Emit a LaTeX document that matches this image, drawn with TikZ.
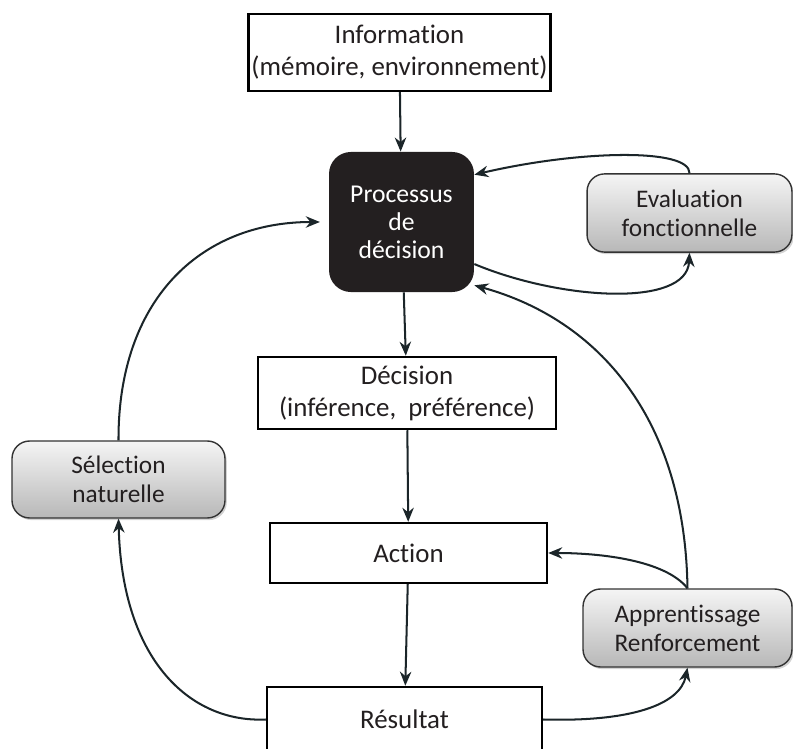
\documentclass[tikz,border=0pt]{standalone}
\usepackage{fontspec}
\setmainfont{Carlito}[Ligatures={NoCommon,NoRare,NoContextual}]
\usetikzlibrary{arrows.meta,shadows}
\definecolor{linecol}{HTML}{1B2529}
\definecolor{textcol}{HTML}{231F20}
\definecolor{procfill}{HTML}{231F20}

\begin{document}
\begin{tikzpicture}[scale=0.2]
\tikzstyle{every node}+=[inner sep=0pt, text=textcol, align=center]
\tikzstyle{whitebox}=[draw=black, line width=1.4pt, fill=white, font=\fontsize{15.3}{18.2}\selectfont]
\tikzstyle{greybox}=[draw=black!80, line width=0.8pt, rounded corners=10pt, top color=black!4, bottom color=black!28, drop shadow={shadow xshift=1pt, shadow yshift=-1.2pt, opacity=0.35}, font=\fontsize{14.4}{16.4}\selectfont, minimum width=118pt, minimum height=44.5pt]
\tikzstyle{flow}=[draw=linecol, line width=1.15pt, -{Stealth[length=8pt,width=6.5pt]}]
\useasboundingbox (0,0) rectangle (79.3,-74.9);
% boxes
\node [whitebox, minimum width=172pt, minimum height=43.8pt] (info) at (39.95,-5.25) {Information\\(mémoire, environnement)};
\node [fill=procfill, rounded corners=12.5pt, minimum width=82.5pt, minimum height=79.7pt, text=white, font=\fontsize{14.6}{15.9}\selectfont] (proc) at (40.15,-22.2) {Processus\\de\\décision};
\node [greybox, minimum width=116.6pt] (eval) at (68.95,-21.3) {Evaluation\\fonctionnelle};
\node [whitebox, minimum width=169.6pt, minimum height=41pt] (dec) at (40.7,-39.3) {Décision\\(inférence,\ \ préférence)};
\node [greybox, minimum width=121.2pt, minimum height=43.8pt] (sel) at (11.85,-47.95) {Sélection\\naturelle};
\node [whitebox, minimum width=157.6pt, minimum height=34.1pt] (act) at (40.85,-55.3) {Action};
\node [greybox, minimum width=118.9pt, minimum height=44.4pt] (app) at (68.75,-62.8) {Apprentissage\\Renforcement};
\node [whitebox, minimum width=156.5pt, minimum height=37pt] (res) at (40.45,-71.95) {Résultat};
% main chain
\draw [flow] (info) -- (proc);
\draw [flow] (proc) -- (dec);
\draw [flow] (dec) -- (act);
\draw [flow] (act) -- (res);
% loops
\draw [flow] (eval.north) .. controls (69,-14.8) and (58,-15) .. (proc.33);
\draw [flow] (proc.-30) .. controls (56,-30) and (68.7,-30.8) .. (eval.south);
\draw [flow] (app.north) .. controls (68.5,-42) and (60,-32) .. (proc.-41);
\draw [flow] (app.north) .. controls (66.5,-56) and (60,-55.3) .. (act.east);
\draw [flow] (res.east) .. controls (63,-72.2) and (68,-70.5) .. (app.south);
\draw [flow] (res.west) .. controls (19,-72.3) and (12.2,-66) .. (sel.south);
\draw [flow, shorten >=5pt] (sel.north) .. controls (11.8,-30) and (20,-22.2) .. (proc.west);
\end{tikzpicture}
\end{document}
